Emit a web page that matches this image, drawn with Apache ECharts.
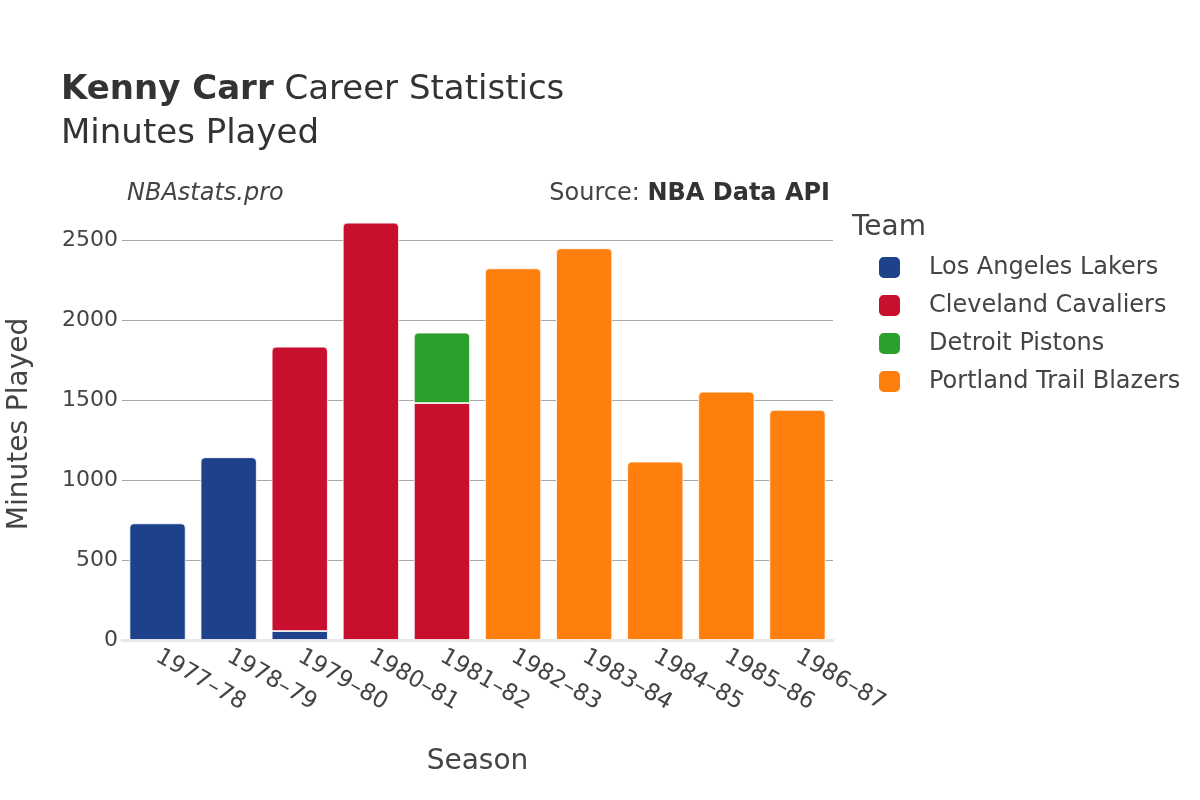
<!DOCTYPE html>
<html><head><meta charset="utf-8">
<script src="https://cdn.jsdelivr.net/npm/echarts@6/dist/echarts.min.js"></script>
<style>html,body{margin:0;padding:0;background:#fff}#c{width:1200px;height:800px}</style>
</head><body><div id="c"></div>
<script>
const seasons = ['1977–78','1978–79','1979–80','1980–81','1981–82','1982–83','1983–84','1984–85','1985–86','1986–87'];
const teams = ['Los Angeles Lakers','Cleveland Cavaliers','Detroit Pistons','Portland Trail Blazers'];
const colors = ['#1d428a','#c8102e','#2ca02c','#ff7f0e'];
const lakers   = [729, 1142, 56, null, null, null, null, null, null, null];
const cavs     = [null, null, 1777, 2608, 1481, null, null, null, null, null];
const pistons  = [null, null, null, null, 440, null, null, null, null, null];
const blazers  = [null, null, null, null, null, 2323, 2448, 1115, 1552, 1438];
const yTicks = [0, 500, 1000, 1500, 2000, 2500];

const seriesData = [lakers, cavs, pistons, blazers];
const font = 'DejaVu Sans';
const txt = '#444';

const topIdx = seasons.map((s, i) => {
  let t = -1;
  seriesData.forEach((arr, k) => { if (arr[i] != null) t = k; });
  return t;
});

const series = teams.map((name, k) => ({
  name, type: 'bar', stack: 'total',
  barCategoryGap: '21%',
  itemStyle: { color: colors[k], borderColor: '#fff', borderWidth: 0.8 },
  emphasis: { disabled: true },
  data: seriesData[k].map((v, i) => v == null ? null : {
    value: v,
    itemStyle: { borderRadius: topIdx[i] === k ? [4,4,0,0] : 0 }
  })
}));

const chart = echarts.init(document.getElementById('c'));
chart.setOption({
  animation: false,
  textStyle: { fontFamily: font },
  title: [
    { text: '{b|Kenny Carr} Career Statistics', left: 61, top: 73, padding: 0,
      textStyle: { fontFamily: font, fontSize: 34, fontWeight: 'normal', color: '#333',
        rich: { b: { fontFamily: font, fontSize: 34, fontWeight: 'bold', color: '#333' } } } },
    { text: 'Minutes Played', left: 61, top: 117, padding: 0,
      textStyle: { fontFamily: font, fontSize: 34, fontWeight: 'normal', color: '#333' } },
    { text: 'NBAstats.pro', left: 127, top: 182, padding: 0,
      textStyle: { fontFamily: font, fontSize: 24, fontStyle: 'italic', fontWeight: 'normal', color: txt } },
    { text: 'Source: {b|NBA Data API}', right: 370, top: 182, padding: 0,
      textStyle: { fontFamily: font, fontSize: 24, fontWeight: 'normal', color: txt,
        rich: { b: { fontFamily: font, fontSize: 24, fontWeight: 'bold', color: '#333' } } } },
    { text: 'Team', left: 852, top: 214, padding: 0,
      textStyle: { fontFamily: font, fontSize: 28, fontWeight: 'normal', color: txt } }
  ],
  legend: {
    orient: 'vertical', left: 877, top: 255, padding: 0,
    icon: 'roundRect', itemWidth: 23, itemHeight: 23, itemGap: 13,
    textStyle: { fontFamily: font, fontSize: 24, color: txt, padding: [0,0,0,23] },
    data: teams
  },
  grid: { left: 122, right: 367, top: 208, bottom: 160, outerBoundsMode: 'none' },
  xAxis: {
    type: 'category', data: seasons,
    name: 'Season', nameLocation: 'middle', nameGap: 108,
    nameTextStyle: { fontFamily: font, fontSize: 28, color: txt },
    axisTick: { show: false },
    axisLine: { show: true, lineStyle: { color: '#e8e8e8', width: 3 } },
    axisLabel: { rotate: -30, fontSize: 23, color: txt, fontFamily: font, margin: 15, interval: 0 }
  },
  yAxis: {
    type: 'value', min: 0, max: 2700, interval: 500,
    name: 'Minutes Played', nameLocation: 'middle', nameGap: 88,
    nameTextStyle: { fontFamily: font, fontSize: 28, color: txt },
    axisLine: { show: false }, axisTick: { show: false },
    axisLabel: { fontSize: 22, color: txt, fontFamily: font, margin: 4, showMaxLabel: false,
      formatter: v => yTicks.includes(v) ? String(v) : '' },
    splitLine: { lineStyle: { color: '#a8a8a8', width: 1 }, showMaxLine: false, showMinLine: false }
  },
  series
});
</script></body></html>
